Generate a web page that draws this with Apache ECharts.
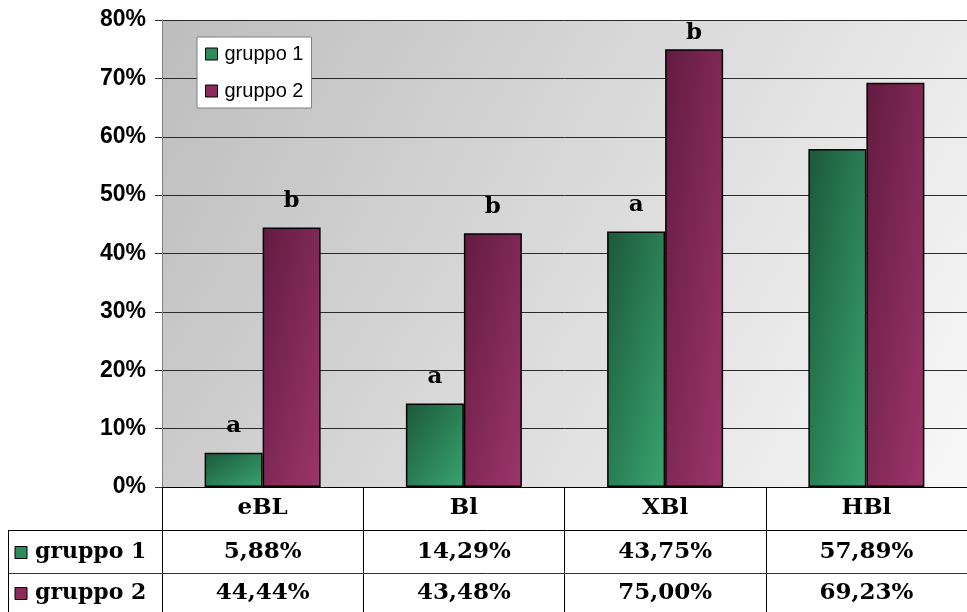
<!DOCTYPE html>
<html>
<head>
<meta charset="utf-8">
<style>
  html, body { margin: 0; padding: 0; background: #ffffff; }
  #chart { width: 967px; height: 612px; }
</style>
<script src="https://cdn.jsdelivr.net/npm/echarts@6/dist/echarts.min.js"></script>
</head>
<body>
<div id="chart"></div>
<script>
// Categories and values (percent)
var categories = ['eBL', 'Bl', 'XBl', 'HBl'];
var seriesNames = ['gruppo 1', 'gruppo 2'];
var gruppo1 = [5.88, 14.29, 43.75, 57.89];
var gruppo2 = [44.44, 43.48, 75.00, 69.23];
// Significance letters above the bars
var letters1 = ['a', 'a', 'a', ''];
var letters2 = ['b', 'b', 'b', ''];
// Value axis ticks
var yMin = 0, yMax = 80, yStep = 10;

var SERIF = 'DejaVu Serif';
var SANS = 'Liberation Sans';

// Bar shading: dark in the upper-left corner, light in the lower-right corner
var greenStops = ['#1c583b', '#38a46e'];
var purpleStops = ['#621b41', '#9d356a'];
var solidGreen = '#2e8b5c';
var solidPurple = '#8a2b5c';
var BAR_W = 58;
var LABEL_GAP = 15;      // usual gap between a bar and its letter
var LABEL_BOX = 25;      // height taken by a letter

function fmt(v) { return v.toFixed(2).replace('.', ',') + '%'; }

// Corner-to-corner gradient of a w x h rectangle, expressed in box units
function cornerGradient(stops, w, h) {
  var s = w * w + h * h;
  return { type: 'linear', x: 0, y: 0, x2: 2 * h * h / s, y2: 2 * w * w / s,
    colorStops: [{ offset: 0, color: stops[0] }, { offset: 1, color: stops[1] }] };
}

var chart = echarts.init(document.getElementById('chart'), null, { renderer: 'canvas' });

var grid = { left: 162, top: 20, width: 816, height: 467 };

function labelStyle(letters) {
  return {
    show: true, position: 'top', distance: LABEL_GAP,
    fontFamily: SERIF, fontWeight: 'bold', fontSize: 23, color: '#000',
    formatter: function (p) { return letters[p.dataIndex]; }
  };
}

chart.setOption({
  animation: false,
  backgroundColor: '#ffffff',
  grid: {
    left: grid.left, top: grid.top, width: grid.width, height: grid.height,
    show: true, borderWidth: 0,
    backgroundColor: { type: 'linear', x: 0, y: 0, x2: 1, y2: 1,
      colorStops: [{ offset: 0, color: '#bdbdbd' }, { offset: 1, color: '#f8f8f8' }] }
  },
  legend: {
    orient: 'vertical', left: 197, top: 37,
    padding: [7, 8, 7, 8], itemGap: 17,
    itemWidth: 12, itemHeight: 12,
    backgroundColor: '#ffffff', borderColor: '#7f7f7f', borderWidth: 1,
    icon: 'rect',
    textStyle: { fontFamily: SANS, fontSize: 20, color: '#000', lineHeight: 20, padding: [0, 0, 0, 2] },
    data: [
      { name: seriesNames[0], itemStyle: { color: solidGreen, borderColor: '#000', borderWidth: 1 } },
      { name: seriesNames[1], itemStyle: { color: solidPurple, borderColor: '#000', borderWidth: 1 } }
    ]
  },
  xAxis: {
    type: 'category',
    data: categories,
    axisLine: { show: true, lineStyle: { color: '#000', width: 1 } },
    axisTick: { show: true, length: 126, lineStyle: { color: '#000', width: 1 } },
    axisLabel: { fontFamily: SERIF, fontWeight: 'bold', fontSize: 23, color: '#000', margin: 10 },
    splitLine: { show: false }
  },
  yAxis: {
    type: 'value',
    min: yMin, max: yMax, interval: yStep,
    axisLine: { show: true, lineStyle: { color: '#808080', width: 1 } },
    axisTick: { show: true, length: 7, lineStyle: { color: '#333', width: 1 } },
    axisLabel: { formatter: '{value}%', fontFamily: SANS, fontWeight: 'bold', fontSize: 23, color: '#000', margin: 16 },
    splitLine: { show: true, lineStyle: { color: '#2a2a2a', width: 1 } }
  },
  series: [
    {
      name: seriesNames[0], type: 'bar', data: gruppo1,
      barWidth: BAR_W, barGap: '0%',
      itemStyle: { color: solidGreen, borderColor: '#000', borderWidth: 1.5 },
      label: labelStyle(letters1)
    },
    {
      name: seriesNames[1], type: 'bar', data: gruppo2,
      barWidth: BAR_W,
      itemStyle: { color: solidPurple, borderColor: '#000', borderWidth: 1.5 },
      label: labelStyle(letters2)
    }
  ]
});

// Per-bar shading sized to each bar's drawn height; letters near the top
// edge of the plot sit closer to their bar so they stay inside it
var zeroY = chart.convertToPixel({ yAxisIndex: 0 }, 0);
function shaded(values, stops) {
  return values.map(function (v) {
    var topY = chart.convertToPixel({ yAxisIndex: 0 }, v);
    var h = Math.abs(zeroY - topY);
    var gap = Math.max(2, Math.min(LABEL_GAP, topY - grid.top - LABEL_BOX));
    return { value: v, itemStyle: { color: cornerGradient(stops, BAR_W, h) }, label: { distance: gap } };
  });
}

// Data table under the axis: two rows of values with their key
var row1Top = 530, row2Top = 573, tableBottom = 612;
var leftEdge = 8, rightEdge = 967;
var rows = [
  { name: seriesNames[0], values: gruppo1, color: solidGreen, y: (row1Top + row2Top) / 2 + 1 },
  { name: seriesNames[1], values: gruppo2, color: solidPurple, y: (row2Top + tableBottom) / 2 + 1 }
];

var g = [];
[row1Top, row2Top].forEach(function (y, i) {
  g.push({ type: 'line', shape: { x1: leftEdge, y1: y + 0.5, x2: rightEdge, y2: y + 0.5 },
    style: { stroke: i === 0 ? '#000' : '#333', lineWidth: 1 }, z: 10 });
});
g.push({ type: 'line', shape: { x1: leftEdge + 0.5, y1: row1Top, x2: leftEdge + 0.5, y2: tableBottom },
  style: { stroke: '#000', lineWidth: 1 }, z: 10 });

rows.forEach(function (r) {
  g.push({ type: 'rect', shape: { x: 15, y: r.y - 6, width: 12, height: 12 },
    style: { fill: r.color, stroke: '#000', lineWidth: 1 }, z: 10 });
  g.push({ type: 'text', x: 35, y: r.y,
    style: { text: r.name, fontFamily: SERIF, fontWeight: 'bold', fontSize: 22, fill: '#000',
      textAlign: 'left', textVerticalAlign: 'middle' }, z: 10 });
  r.values.forEach(function (v, i) {
    var cx = chart.convertToPixel({ xAxisIndex: 0 }, categories[i]);
    g.push({ type: 'text', x: cx, y: r.y,
      style: { text: fmt(v), fontFamily: SERIF, fontWeight: 'bold', fontSize: 23, fill: '#000',
        textAlign: 'center', textVerticalAlign: 'middle' }, z: 10 });
  });
});

chart.setOption({
  series: [{ data: shaded(gruppo1, greenStops) }, { data: shaded(gruppo2, purpleStops) }],
  graphic: g
});
</script>
</body>
</html>
